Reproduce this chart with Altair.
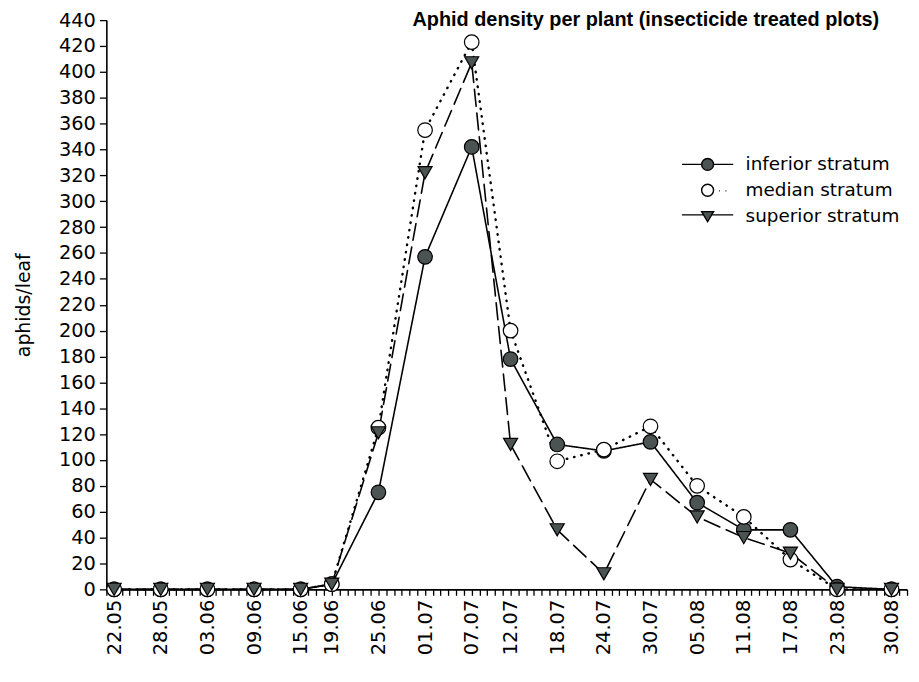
import json
import altair as alt
import pandas as pd

# ---- data ----
dates = ["22.05", "28.05", "03.06", "09.06", "15.06", "19.06", "25.06", "01.07", "07.07",
         "12.07", "18.07", "24.07", "30.07", "05.08", "11.08", "17.08", "23.08", "30.08"]
inferior = [0, 0, 0, 0, 0, 4, 75, 257, 342, 178, 112, 107, 114, 67, 46, 46, 2, 0]
median = [0, 0, 0, 0, 0, 4, 125, 355, 423, 200, 99, 108, 126, 80, 56, 23, 0, 0]
superior = [0, 0, 0, 0, 0, 4, 121, 322, 407, 112, 46, 12, 85, 56, 40, 28, 0, 0]
series_names = ["inferior stratum", "median stratum", "superior stratum"]
y_ticks = list(range(0, 441, 20))
title_text = "Aphid density per plant (insecticide treated plots)"

FONT = "DejaVu Sans"


def iso(d):
    day, mon = d.split(".")
    return f"2001-{mon}-{day}"


def ms(s):
    return int(pd.Timestamp(s, tz="UTC").timestamp() * 1000)


rows = []
for name, vals in zip(series_names, [inferior, median, superior]):
    for d, v in zip(dates, vals):
        rows.append({"date": iso(d), "value": v, "series": name})
df = pd.DataFrame(rows)

tick_ms = [ms(d.strftime("%Y-%m-%d")) for d in pd.date_range("2001-05-21", "2001-09-01")]
x_domain = [ms("2001-05-21"), ms("2001-09-01")]

label_expr = ("indexof(" + json.dumps(dates) + ", utcFormat(datum.value, '%d.%m')) >= 0 ? "
              "utcFormat(datum.value, '%d.%m') : ''")

x_enc = alt.X(
    "date:T",
    scale=alt.Scale(type="utc", domain=x_domain),
    axis=alt.Axis(values=tick_ms, labelExpr=label_expr, labelAngle=-90, labelFontSize=19.5,
                  labelFont=FONT, labelColor="black", labelPadding=4, labelOverlap=False,
                  labelFlush=False, labelBound=False, tickSize=6, tickWidth=1.3,
                  tickColor="black", domainColor="black", domainWidth=1.6, grid=False,
                  title=None),
)
y_enc = alt.Y(
    "value:Q",
    scale=alt.Scale(domain=[0, 440], nice=False, zero=False),
    axis=alt.Axis(values=y_ticks, labelFontSize=19.5, labelFont=FONT, labelColor="black",
                  labelPadding=4, tickSize=7, tickWidth=1.3, tickColor="black",
                  domainColor="black", domainWidth=1.6, grid=False, title="aphids/leaf",
                  titleFont=FONT, titleFontSize=19, titleFontWeight="normal",
                  titleColor="black", titlePadding=25),
)

base = alt.Chart(df)

dash = {"inferior stratum": [1, 0], "median stratum": [0.5, 7], "superior stratum": [17, 7]}
widths = {"inferior stratum": 1.6, "median stratum": 2.4, "superior stratum": 1.6}
lines = [
    base.transform_filter(alt.datum.series == s).mark_line(
        color="black", strokeWidth=widths[s], strokeDash=dash[s], strokeCap="round"
    ).encode(x=x_enc, y=y_enc)
    for s in series_names
]

pt_style = {
    "inferior stratum": dict(shape="circle", fill="#4b5453", size=215),
    "median stratum": dict(shape="circle", fill="white", size=215),
    "superior stratum": dict(shape="triangle-down", fill="#4b5453", size=200),
}
points = [
    base.transform_filter(alt.datum.series == s).mark_point(
        filled=True, stroke="black", strokeWidth=1.2, opacity=1, **pt_style[s]
    ).encode(x=x_enc, y=y_enc)
    for s in series_names
]

# legend symbols: line + marker combined in one path
leg_paths = [
    "M-4.3,0L-1,0M1,0L4.3,0M1,0A1,1,0,1,1,-1,0A1,1,0,1,1,1,0Z",
    "M1,0A1,1,0,1,1,-1,0A1,1,0,1,1,1,0ZM1.9,0.1L2.05,0.1M3.0,0.1L3.15,0.1",
    "M-4.3,-0.2L-0.8,-0.2M0.8,-0.2L4.3,-0.2M-1,-0.75L1,-0.75L0,0.95Z",
]
leg_fills = ["#4b5453", "white", "#4b5453"]
leg_strokes = ["black", "black", "black"]
legend = alt.Legend(title=None, orient="none", legendX=596, legendY=136, labelFontSize=18.5,
                    labelFont=FONT, labelColor="black", labelOffset=29, labelLimit=400,
                    rowPadding=7, padding=0, symbolSize=144, symbolStrokeWidth=1.4,
                    symbolOpacity=1)
legend_layer = base.transform_filter("false").mark_point(
    filled=True, size=144, strokeWidth=1.4, opacity=1
).encode(
    x=x_enc, y=y_enc,
    shape=alt.Shape("series:N", scale=alt.Scale(domain=series_names, range=leg_paths), legend=legend),
    fill=alt.Fill("series:N", scale=alt.Scale(domain=series_names, range=leg_fills), legend=legend),
    stroke=alt.Stroke("series:N", scale=alt.Scale(domain=series_names, range=leg_strokes), legend=legend),
)

title_layer = alt.Chart(pd.DataFrame({"t": [title_text]})).mark_text(
    align="right", baseline="alphabetic", fontSize=20, fontWeight="bold", color="black",
    font="Liberation Sans"
).encode(text="t:N", x=alt.value(778), y=alt.value(6))

chart = alt.layer(*lines, *points, legend_layer, title_layer).properties(
    width=806, height=573,
    autosize=alt.AutoSizeParams(type="none"),
    padding={"left": 99, "top": 10, "right": 4, "bottom": 80},
).configure(font=FONT).configure_view(stroke=None)

chart.save("out.html", embed_options={"renderer": "svg", "actions": False})
